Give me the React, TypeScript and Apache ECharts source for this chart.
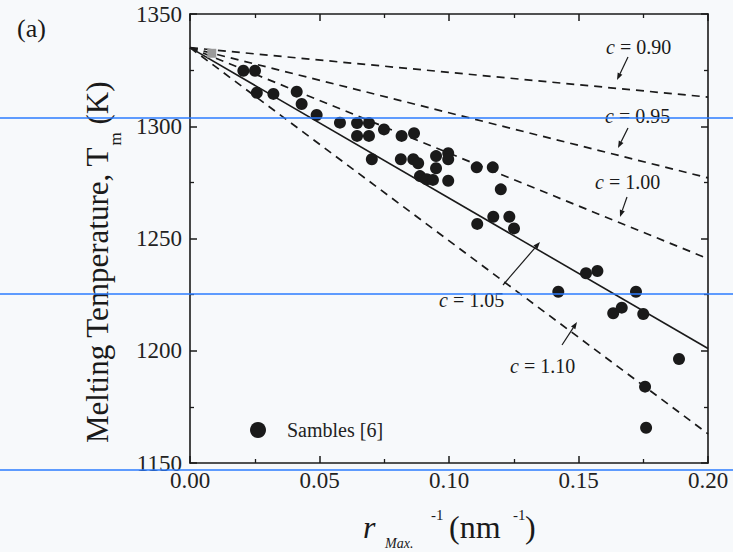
import React, { useEffect, useRef } from 'react';
import * as echarts from 'echarts';

// ---- data ----
const samblesR = [
  0.0206, 0.0251, 0.0258, 0.0322, 0.0412, 0.0431, 0.0489, 0.0579, 0.0645, 0.0691,
  0.0645, 0.0691, 0.0749, 0.0817, 0.0865, 0.0702, 0.0814, 0.0862, 0.0881, 0.095,
  0.0997, 0.0997, 0.095, 0.0888, 0.0914, 0.0938, 0.0997, 0.1107, 0.1169, 0.12,
  0.1171, 0.1233, 0.1109, 0.1251, 0.1529, 0.1573, 0.1422, 0.1722, 0.1634, 0.1667,
  0.175, 0.1888, 0.1757, 0.1761,
];
const samblesT = [
  1324.7, 1324.7, 1314.9, 1314.4, 1315.4, 1309.9, 1305.0, 1301.6, 1301.4, 1301.4,
  1295.7, 1295.7, 1298.6, 1295.7, 1296.9, 1285.3, 1285.3, 1285.3, 1283.5, 1286.7,
  1288.0, 1285.3, 1281.3, 1277.8, 1276.4, 1276.1, 1275.7, 1281.7, 1281.7, 1271.9,
  1259.7, 1259.7, 1256.5, 1254.5, 1234.5, 1235.5, 1226.3, 1226.3, 1216.7, 1219.2,
  1216.4, 1196.3, 1184.0, 1165.7,
];
const markerR = [0.0084];
const markerT = [1332.5];

const lineR = [0, 0.2];
const curveC = ['0.90', '0.95', '1.00', '1.05', '1.10'];
const curveT0 = [1335, 1335, 1335, 1335, 1335];
const curveT1 = [1313, 1277, 1241, 1201, 1163];
const solidCurve = '1.05';

const xMin = 0, xMax = 0.2, xStep = 0.05;
const yMin = 1150, yMax = 1350, yStep = 50;

const FONT = 'Liberation Serif, serif';
const INK = '#1a1a1a';

if (typeof document !== 'undefined') document.body.style.margin = '0';

function measure(text: string, size: number, italic = false) {
  const c = document.createElement('canvas').getContext('2d')!;
  c.font = `${italic ? 'italic ' : ''}${size}px "Liberation Serif"`;
  return c.measureText(text).width;
}

function arrow(x1: number, y1: number, x2: number, y2: number) {
  const dx = x2 - x1, dy = y2 - y1;
  const L = Math.hypot(dx, dy);
  const ux = dx / L, uy = dy / L;
  const nx = -uy, ny = ux;
  const hl = 7, hw = 2.6;
  const bx = x2 - ux * hl, by = y2 - uy * hl;
  return [
    { type: 'line', shape: { x1, y1, x2: bx, y2: by }, style: { stroke: INK, lineWidth: 1.2 }, z: 50 },
    {
      type: 'polygon',
      shape: { points: [[x2, y2], [bx + nx * hw, by + ny * hw], [bx - nx * hw, by - ny * hw]] },
      style: { fill: INK },
      z: 50,
    },
  ];
}

function txt(x: number, y: number, text: string, size: number, extra: any = {}) {
  return {
    type: 'text',
    x,
    y,
    z: 60,
    style: {
      text,
      fontFamily: FONT,
      fontSize: size,
      fill: INK,
      align: 'left',
      verticalAlign: 'middle',
      ...extra,
    },
  };
}

function cLabel(x: number, y: number, v: string) {
  return txt(x, y, `{i|c}{n| = ${v}}`, 20, {
    rich: {
      i: { fontStyle: 'italic', fontFamily: FONT, fontSize: 20, fill: INK },
      n: { fontFamily: FONT, fontSize: 20, fill: INK },
    },
  });
}

export default function App() {
  const ref = useRef<HTMLDivElement>(null);
  useEffect(() => {
    if (!ref.current) return;
    const chart = echarts.init(ref.current, undefined, { renderer: 'svg' });

    const axisCommon = {
      type: 'value',
      axisLine: { show: true, onZero: false, lineStyle: { color: INK, width: 1.6 } },
      axisTick: { show: true, inside: true, length: 7, lineStyle: { color: INK, width: 1.5 } },
      minorTick: { show: true, splitNumber: 2, length: 4, lineStyle: { color: INK, width: 1.3 } },
      splitLine: { show: false },
    };

    const curveSeries = curveC.map((c, i) => ({
      name: `c = ${c}`,
      type: 'line',
      data: lineR.map((r, k) => [r, k === 0 ? curveT0[i] : curveT1[i]]),
      showSymbol: false,
      symbol: 'none',
      lineStyle: {
        color: INK,
        width: c === solidCurve ? 1.6 : 1.7,
        type: c === solidCurve ? 'solid' : [8, 6],
      },
      z: 3,
    }));

    const yMain = 'Melting Temperature, T';
    const yMainW = measure(yMain, 31);
    const subW = measure('m', 17);

    const graphic: any[] = [
      txt(17, 28, '(a)', 26),
      {
        type: 'group',
        x: 97,
        y: 443,
        rotation: Math.PI / 2,
        children: [
          txt(0, 0, yMain, 31),
          txt(yMainW + 1, 18, 'm', 17),
          txt(yMainW + subW + 1, 0, ' (K)', 31),
        ],
      },
      txt(363, 527, 'r', 32, { fontStyle: 'italic' }),
      txt(385, 543, 'Max.', 14, { fontStyle: 'italic' }),
      txt(431, 515, '-1', 15),
      txt(449, 527, '(nm', 32),
      txt(513, 515, '-1', 15),
      txt(525, 527, ')', 32),
      cLabel(606, 47, '0.90'),
      cLabel(605, 116, '0.95'),
      cLabel(595, 182, '1.00'),
      cLabel(439, 300, '1.05'),
      cLabel(510, 366, '1.10'),
      ...arrow(628, 57, 617, 80),
      ...arrow(628, 128, 618, 148),
      ...arrow(627, 197, 620, 217),
      ...arrow(503, 285, 540, 242),
      ...arrow(562, 345, 577, 322),
      ...[118, 294, 470].map((y) => ({
        type: 'line',
        shape: { x1: 0, y1: y, x2: 733, y2: y },
        style: { stroke: '#2b7bff', lineWidth: 1.4 },
        z: 100,
      })),
    ];

    chart.setOption({
      animation: false,
      backgroundColor: '#f7f9fb',
      grid: { left: 190, right: 25, top: 14, bottom: 89, containLabel: false },
      xAxis: [
        {
          ...axisCommon,
          position: 'bottom',
          min: xMin,
          max: xMax,
          interval: xStep,
          axisLabel: {
            formatter: (v: number) => v.toFixed(2),
            fontFamily: FONT,
            fontSize: 23,
            color: '#222',
            margin: 6,
          },
        },
        {
          ...axisCommon,
          position: 'top',
          min: xMin,
          max: xMax,
          interval: xStep,
          axisLabel: { show: false },
        },
      ],
      yAxis: [
        {
          ...axisCommon,
          position: 'left',
          min: yMin,
          max: yMax,
          interval: yStep,
          axisLabel: {
            formatter: (v: number) => String(Math.round(v)),
            fontFamily: FONT,
            fontSize: 23,
            color: '#222',
            margin: 8,
          },
        },
        {
          ...axisCommon,
          position: 'right',
          min: yMin,
          max: yMax,
          interval: yStep,
          axisLabel: { show: false },
        },
      ],
      legend: {
        data: ['Sambles [6]'],
        left: 245,
        top: 415,
        icon: 'circle',
        itemWidth: 16,
        itemHeight: 16,
        selectedMode: false,
        textStyle: { fontFamily: FONT, fontSize: 20, color: '#222', padding: [0, 0, 0, 16] },
      },
      series: [
        ...curveSeries,
        {
          name: 'Sambles [6]',
          type: 'scatter',
          data: samblesR.map((r, i) => [r, samblesT[i]]),
          symbol: 'circle',
          symbolSize: 12,
          itemStyle: { color: INK, opacity: 1 },
          z: 5,
        },
        {
          name: 'marker',
          type: 'scatter',
          data: markerR.map((r, i) => [r, markerT[i]]),
          symbol: 'rect',
          symbolSize: 9,
          itemStyle: { color: '#9a9a9a', opacity: 1 },
          z: 4,
        },
      ],
      graphic,
    });
    return () => chart.dispose();
  }, []);
  return <div ref={ref} style={{ width: 733, height: 552 }} />;
}
